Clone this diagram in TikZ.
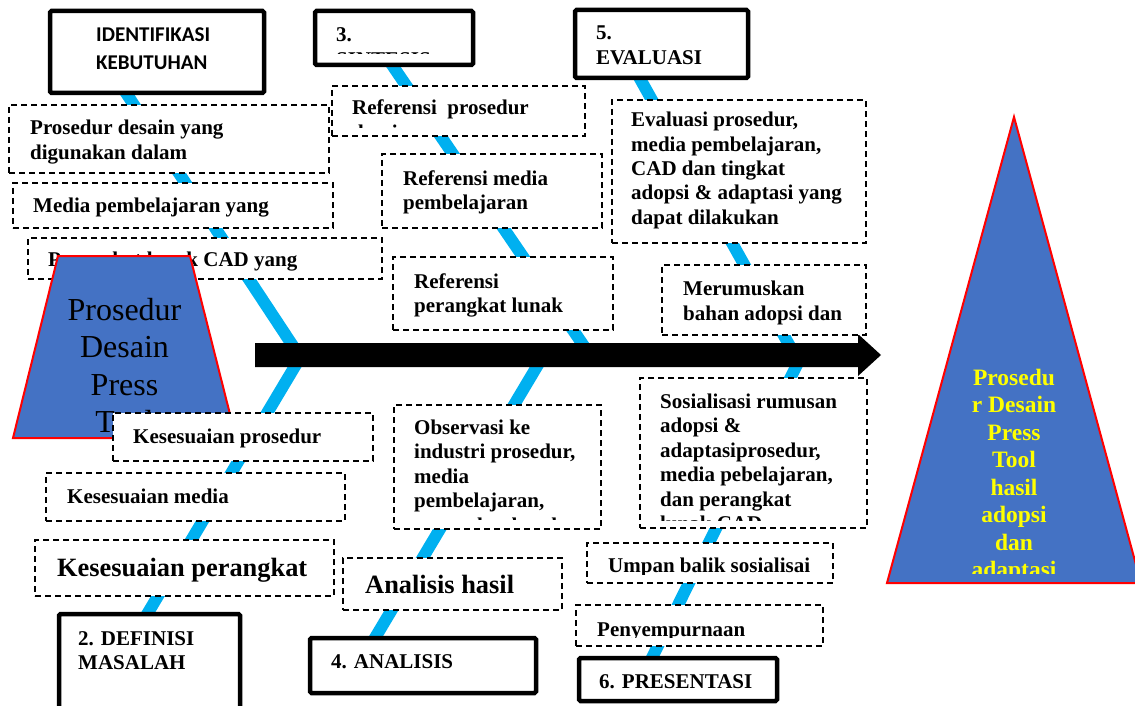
\documentclass[tikz,border=0pt]{standalone}
\usepackage{fontspec}
\setmainfont{Liberation Serif}
\newfontfamily\calibfont{Carlito}
\usetikzlibrary{fit}
\pgfdeclarelayer{bg}
\pgfsetlayers{bg,main}
\definecolor{bonec}{HTML}{00B0F0}
\definecolor{shapeblue}{HTML}{4472C4}
\definecolor{ylw}{HTML}{FFFF00}
\tikzset{
  x=1pt, y=-1pt,
  bone/.style={draw=bonec, line width=12pt},
  dbox/.style={draw=black, fill=white, line width=1.8pt, dash pattern=on 6pt off 4pt, inner sep=0pt},
  tbox/.style={draw=black, fill=white, line width=4.5pt, inner sep=0pt, rounded corners=1.5pt},
  bt/.style={anchor=base west, inner sep=0pt, font=\bfseries\fontsize{21}{24.5}\selectfont},
  btl/.style={anchor=base west, inner sep=0pt, font=\bfseries\fontsize{26.4}{30}\selectfont},
  st/.style={anchor=base west, inner sep=0pt, font=\calibfont\bfseries\fontsize{21}{28}\selectfont},
}
\begin{document}
\begin{tikzpicture}
\useasboundingbox (0,0) rectangle (1135,706);
\clip (0,0) rectangle (1135,706);

% spine junctions
\coordinate (j1) at (295.6,350);
\coordinate (j2) at (298.7,360);
\coordinate (j3) at (586.6,350);
\coordinate (j4) at (540.8,360);
\coordinate (j5) at (792,350);
\coordinate (j6) at (799.3,360);

% spine with arrow head
\fill[black] (255,343) -- (858,343) -- (858,334) -- (881,355) -- (858,376) -- (858,367) -- (255,367) -- cycle;

% stage boxes
\node[tbox, fit={(50,11)(264,93)}] (ident) {};
\node[st] (ident-t) at (96,42) {\parbox[t]{200pt}{IDENTIFIKASI\\KEBUTUHAN}};

\node[tbox, fit={(315,11)(473,65)}] (sintesis) {};
\begin{scope}\clip (315,11) rectangle (473,54);
\node[bt] (sintesis-t) at (336,42) {\parbox[t]{200pt}{3.\\SINTESIS}};
\end{scope}

\node[tbox, fit={(575,10)(748,78)}] (evaluasi) {};
\node[bt] (evaluasi-t) at (596,40) {\parbox[t]{200pt}{5.\\EVALUASI}};

\node[tbox, fit={(59,614)(240,716)}] (definisi) {};
\node[bt] (definisi-t) at (78,645) {\parbox[t]{200pt}{2. DEFINISI\\MASALAH}};

\node[tbox, fit={(310,638)(536,693)}] (analisis) {};
\node[bt] (analisis-t) at (331,668) {4. ANALISIS};

\node[tbox, fit={(579,658)(777,701)}] (presentasi) {};
\node[bt] (presentasi-t) at (599,688) {6. PRESENTASI};

% bones
\begin{pgfonlayer}{bg}
\draw[bone] ([xshift=-34.7pt,yshift=8pt]ident.south) -- (j1);
\draw[bone] (j2) -- ([xshift=-5.7pt,yshift=-8pt]definisi.north);
\draw[bone] ([xshift=-5.8pt,yshift=8pt]sintesis.south) -- (j3);
\draw[bone] (j4) -- ([xshift=-50.3pt,yshift=-6pt]analisis.north);
\draw[bone] ([xshift=-24pt,yshift=6pt]evaluasi.south) -- (j5);
\draw[bone] (j6) -- ([xshift=-28pt,yshift=-6pt]presentasi.north);
\end{pgfonlayer}

% left column of cause boxes
\node[dbox, fit={(9,105)(329,173)}] (ba) {};
\begin{scope}\clip (9,105) rectangle (329,165);
\node[bt] (ba-t) at (30,135) {\parbox[t]{300pt}{Prosedur desain yang\\digunakan dalam}};
\end{scope}

\node[dbox, fit={(13,183)(333,228)}] (bb) {};
\node[bt] (bb-t) at (33,212) {Media pembelajaran yang};

\node[dbox, fit={(28,238)(382,279)}] (bc) {};
\node[bt] (bc-t) at (48,266) {Perangkat lunak CAD yang};

% source shape
\filldraw[fill=shapeblue, draw=red, line width=2pt] (58,256) -- (190,256) -- (236,438) -- (13,438) -- cycle;
\node[anchor=base, inner sep=0pt, font=\fontsize{32}{37.5}\selectfont] (src-t) at (124.5,320) {\parbox[t]{160pt}{\centering Prosedur\\Desain\\Press\\Tool}};

\node[dbox, fit={(113,413)(373,461)}] (bd) {};
\node[bt] (bd-t) at (133,443) {Kesesuaian prosedur};

\node[dbox, fit={(46,473)(345,521)}] (be) {};
\node[bt] (be-t) at (67,503) {Kesesuaian media};

\node[dbox, fit={(35,540)(334,596)}] (bf) {};
\node[btl] (bf-t) at (57,576) {Kesesuaian perangkat};

% middle column
\node[dbox, fit={(332,86)(585,136)}] (bg) {};
\begin{scope}\clip (332,86) rectangle (585,128);
\node[bt] (bg-t) at (352,115) {\parbox[t]{300pt}{Referensi\ \ prosedur\\desain}};
\end{scope}

\node[dbox, fit={(382,154)(602,228)}] (bh) {};
\node[bt] (bh-t) at (403,185) {\parbox[t]{300pt}{Referensi media\\pembelajaran}};

\node[dbox, fit={(393,257)(613,330)}] (bi) {};
\node[bt] (bi-t) at (414,288) {\parbox[t]{300pt}{Referensi\\perangkat lunak}};

\node[dbox, fit={(394,405)(601,529)}] (bj) {};
\begin{scope}\clip (394,405) rectangle (601,519);
\node[bt] (bj-t) at (414,434) {\parbox[t]{300pt}{Observasi ke\\industri prosedur,\\media\\pembelajaran,\\perangkat lunak}};
\end{scope}

\node[dbox, fit={(343,558)(562,610)}] (bk) {};
\node[btl] (bk-t) at (365,593) {Analisis hasil};

% right column
\node[dbox, fit={(612,100)(866,243)}] (bl) {};
\node[bt, font=\bfseries\fontsize{21}{24.3}\selectfont] (bl-t) at (631,127) {\parbox[t]{300pt}{Evaluasi prosedur,\\media pembelajaran,\\CAD dan tingkat\\adopsi \& adaptasi yang\\dapat dilakukan}};

\node[dbox, fit={(662,265)(866,335)}] (bm) {};
\node[bt, font=\bfseries\fontsize{21}{25}\selectfont] (bm-t) at (683,295) {\parbox[t]{300pt}{Merumuskan\\bahan adopsi dan}};

\node[dbox, fit={(640,378)(867,528)}] (bn) {};
\begin{scope}\clip (640,378) rectangle (867,520);
\node[bt] (bn-t) at (660,408) {\parbox[t]{300pt}{Sosialisasi rumusan\\adopsi \&\\adaptasiprosedur,\\media pebelajaran,\\dan perangkat\\lunak CAD}};
\end{scope}

\node[dbox, fit={(587,543)(833,583)}] (bo) {};
\begin{scope}\clip (587,543) rectangle (833,574);
\node[bt] (bo-t) at (608,572) {Umpan balik sosialisai};
\end{scope}

\node[dbox, fit={(576,605)(823,646)}] (bp) {};
\begin{scope}\clip (576,605) rectangle (823,637);
\node[bt] (bp-t) at (597,636) {Penyempurnaan};
\end{scope}

% result shape
\filldraw[fill=shapeblue, draw=red, line width=2pt] (1014,117) -- (1141,583) -- (887,583) -- cycle;
\begin{scope}\clip (887,117) rectangle (1141,573);
\node[anchor=base, inner sep=0pt, text=ylw, font=\bfseries\fontsize{23.5}{27.5}\selectfont] (res-t) at (1014,385) {\parbox[t]{130pt}{\centering Prosedu\\r Desain\\Press\\Tool\\hasil\\adopsi\\dan\\adaptasi}};
\end{scope}
\end{tikzpicture}
\end{document}
